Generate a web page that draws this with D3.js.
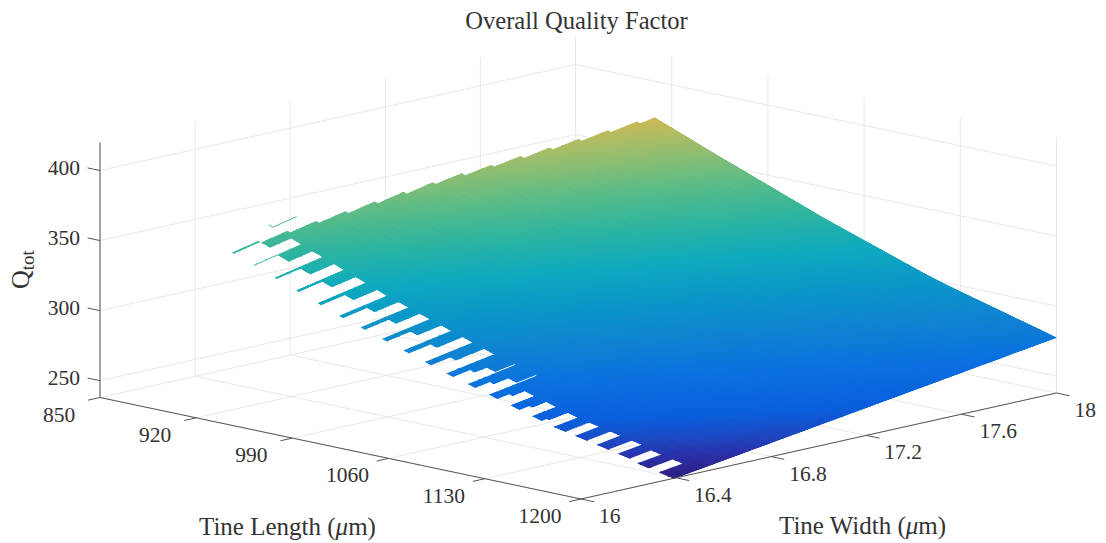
<!DOCTYPE html>
<html><head><meta charset="utf-8">
<script src="https://cdn.jsdelivr.net/npm/d3@7"></script>
<style>html,body{margin:0;padding:0;background:#fff}svg{display:block}text{font-family:"Liberation Serif",serif;fill:#333}</style>
</head><body><svg id="c" width="1106" height="543"></svg>
<script>
const titleText = "Overall Quality Factor";
const lengthTicks = [850,920,990,1060,1130,1200];
const widthTicks = [16,16.4,16.8,17.2,17.6,18];
const widthTickLabels = ["16","16.4","16.8","17.2","17.6","18"];
const qTicks = [250,300,350,400];

// Q at these grid nodes
const gridL = [877,955,1033,1111,1200];
const gridW = [16.4,17.2,18];
const gridQ = [
  [332,362,385.6],
  [303,330,356],
  [278,302.5,327],
  [256,278.5,301],
  [238,257.7,277.5]
];
// colour read from the surface
const colourQ = [238,245,250,258,270,285,300,315,330,345,360,374];
const colourRGB = ["#2d1e82","#2a30a8","#1e46c0","#0a5fdc","#0a6ee0","#0f82d2","#0a96c8","#0faabe","#2db4a0","#5abc87","#96be6e","#cdb955"];

// comb on the long lower-left edge (21 teeth)
const toothL = [877,892.6,908.2,923.8,939.4,955,970.6,986.2,1001.8,1017.4,1033,1048.6,1064.2,1079.8,1095.4,1111,1126.6,1142.2,1157.8,1173.4,1189];
const toothTipW = [16.4,16.4,16.4,16.4,16.4,16.4,16.4,16.4,16.4,16.4,16.4,16.4,16.4,16.4,16.4,16.4,16.4,16.4,16.4,16.39,16.39];
const toothStepW = [16.51,16.5,16.5,16.5,16.5,16.5,16.5,16.5,16.49,16.48,16.47,16.46,16.45,16.44,16.42,16.4,16.4,16.4,16.4,16.39,16.39];
const toothEndW = [16.6,16.6,16.6,16.6,16.6,16.6,16.6,16.6,16.6,16.6,16.52,16.52,16.5,16.5,16.5,16.5,16.5,16.5,16.49,16.49,16.49];
const toothTipT = [1.4,.6,1.4,1.8,2.5,3,3.2,3.5,4,4.5,5,5.5,6,6.5,7,8.5,8.5,8.5,8.5,8.5,8.5];
const toothBodyT = [8.5,8.5,8.5,8.5,8.5,8.5,8.5,8.5,8.5,8.5,8.5,8.5,8.5,8.5,8.5,8.5,8.5,8.5,8.5,8.5,8.5];
// thin white slits carrying two slots further in
const slitIndex = [10,11];
const slitEndW = [16.6,16.6];
// stair on the top-left edge, from the tip to the peak
const stairL = [877,879,881,883.2,885.4,887.6,889.8,892,894.2,896.4,898.6,900.8,903,905.2,907.5];
const stairW = [16.51,16.62,16.73,16.84,16.95,17.06,17.17,17.28,17.39,17.5,17.61,17.72,17.83,17.94,18];
// small stray sliver above the stair
const sliverL = [869,872,872];
const sliverW = [16.6,16.6,16.7];

const svg = d3.select("#c");
const xL = d3.scaleLinear().domain([850,1200]).range([0,481]);
const yL = d3.scaleLinear().domain([850,1200]).range([0,101.5]);
const xW = d3.scaleLinear().domain([16,18]).range([0,475.5]);
const yW = d3.scaleLinear().domain([16,18]).range([0,-106]);
const zQ = d3.scaleLinear().domain([238,420]).range([0,-255]);
const ORIGIN = [100,397.5];
const proj = (L,W,Q)=>[ORIGIN[0]+xL(L)+xW(W), ORIGIN[1]+yL(L)+yW(W)+zQ(Q)];
const colour = d3.scaleLinear().domain(colourQ).range(colourRGB).clamp(true);

function surfQ(L,W){
  const i = Math.max(0,Math.min(gridL.length-2,d3.bisectRight(gridL,L)-1));
  const j = Math.max(0,Math.min(gridW.length-2,d3.bisectRight(gridW,W)-1));
  const a=(L-gridL[i])/(gridL[i+1]-gridL[i]), b=(W-gridW[j])/(gridW[j+1]-gridW[j]);
  return (1-a)*(1-b)*gridQ[i][j]+a*(1-b)*gridQ[i+1][j]+(1-a)*b*gridQ[i][j+1]+a*b*gridQ[i+1][j+1];
}
const P = (L,W)=>proj(L,W,surfQ(L,W));
const line = d3.line();

// walls + floor
const G = svg.append("g").attr("stroke","#e8e8e8").attr("fill","none").attr("stroke-width",1);
const seg=(a,b,g=G)=>g.append("path").attr("d",line([a,b]));
const qTop=420,qBot=238;
widthTicks.forEach(w=>{ seg(proj(850,w,qBot),proj(850,w,qTop)); seg(proj(850,w,qBot),proj(1200,w,qBot)); });
lengthTicks.forEach(l=>{ seg(proj(l,18,qBot),proj(l,18,qTop)); seg(proj(l,16,qBot),proj(l,18,qBot)); });
qTicks.forEach(q=>{ seg(proj(850,16,q),proj(850,18,q)); seg(proj(850,18,q),proj(1200,18,q)); });

// outline of the surface
const outline=[];
const addEdge=(a,b)=>{const n=24;for(let i=0;i<n;i++){const t=i/n;outline.push(P(a[0]+(b[0]-a[0])*t,a[1]+(b[1]-a[1])*t));}};
const verts=[];
verts.push([907.5,18],[1200,18],[1200,16.39]);
for(let k=toothL.length-1;k>=0;k--){
  const l=toothL[k];
  if(k===toothL.length-1) verts.push([1200,toothTipW[k]]);
  else { verts.push([toothL[k+1],toothEndW[k]]); verts.push([l+toothBodyT[k],toothEndW[k]]); }
  verts.push([l+toothBodyT[k],toothStepW[k]]);
  verts.push([l+toothTipT[k],toothStepW[k]]);
  verts.push([l+toothTipT[k],toothTipW[k]]);
  verts.push([l,toothTipW[k]]);
}
for(let i=0;i<stairL.length;i++){
  verts.push([stairL[i],stairW[i]]);
  if(i<stairL.length-1) verts.push([stairL[i+1],stairW[i]]);
}
verts.forEach((v,i)=>addEdge(v,verts[(i+1)%verts.length]));
svg.append("clipPath").attr("id","sc").append("path").attr("d",line(outline)+"Z");

// mesh
const mesh=svg.append("g").attr("clip-path","url(#sc)").attr("shape-rendering","crispEdges");
const lSteps=d3.range(872,1204,4), wSteps=d3.range(16.35,18.04,0.05);
lSteps.forEach(l=>wSteps.forEach(w=>{
  const c=colour(surfQ(l+2,w+0.025));
  mesh.append("path").attr("d",line([P(l,w),P(l+4,w),P(l+4,w+0.05),P(l,w+0.05)])+"Z")
    .attr("fill",c).attr("stroke",c).attr("stroke-width",1);
}));
slitIndex.forEach((k,i)=>{
  const ll=toothL[k+1]-0.6;
  svg.append("path").attr("d",line([P(ll,toothEndW[k]),P(ll,slitEndW[i])]))
    .attr("stroke","#fff").attr("stroke-width",1).attr("fill","none");
});
svg.append("path").attr("d",line(sliverL.map((l,i)=>P(l,sliverW[i]))))
  .attr("stroke",colour(surfQ(sliverL[1],sliverW[1]))).attr("stroke-width",1).attr("fill","none");

// axes
const A=svg.append("g").attr("stroke","#555").attr("fill","none").attr("stroke-width",1);
seg(proj(850,16,qBot),proj(850,16,qTop),A);
seg(proj(850,16,qBot),proj(1200,16,qBot),A);
seg(proj(1200,16,qBot),proj(1200,18,qBot),A);
qTicks.forEach(q=>seg(proj(850,16,q),proj(841,16,q),A));
lengthTicks.forEach(l=>seg(proj(l,16,qBot),proj(l,15.95,qBot),A));
widthTicks.forEach(w=>seg(proj(1200,w,qBot),proj(1209.5,w,qBot),A));

const T=svg.append("g").attr("font-size",21.5);
qTicks.forEach(q=>{const p=proj(850,16,q);T.append("text").attr("x",p[0]-20).attr("y",p[1]+4).attr("text-anchor","end").text(q);});
lengthTicks.forEach(l=>{const p=proj(l,16,qBot);T.append("text").attr("x",p[0]-41).attr("y",p[1]+24).attr("text-anchor","middle").text(l);});
widthTicks.forEach((w,i)=>{const p=proj(1200,w,qBot);T.append("text").attr("x",p[0]+18).attr("y",p[1]+24).text(widthTickLabels[i]);});

svg.append("text").attr("x",576.5).attr("y",29).attr("text-anchor","middle").attr("font-size",24.6).text(titleText);
function axisLabel(x,y,s){
  const t=svg.append("text").attr("x",x).attr("y",y).attr("font-size",25);
  t.append("tspan").text(s+" (");
  t.append("tspan").attr("font-style","italic").text("\u03bc");
  t.append("tspan").text("m)");
}
axisLabel(199,535,"Tine Length");
axisLabel(779,534,"Tine Width");
const q=svg.append("text").attr("transform","translate(29,289) rotate(-90)").attr("font-size",26);
q.append("tspan").text("Q");
q.append("tspan").attr("font-size",19).attr("dy",5).text("tot");
</script></body></html>
